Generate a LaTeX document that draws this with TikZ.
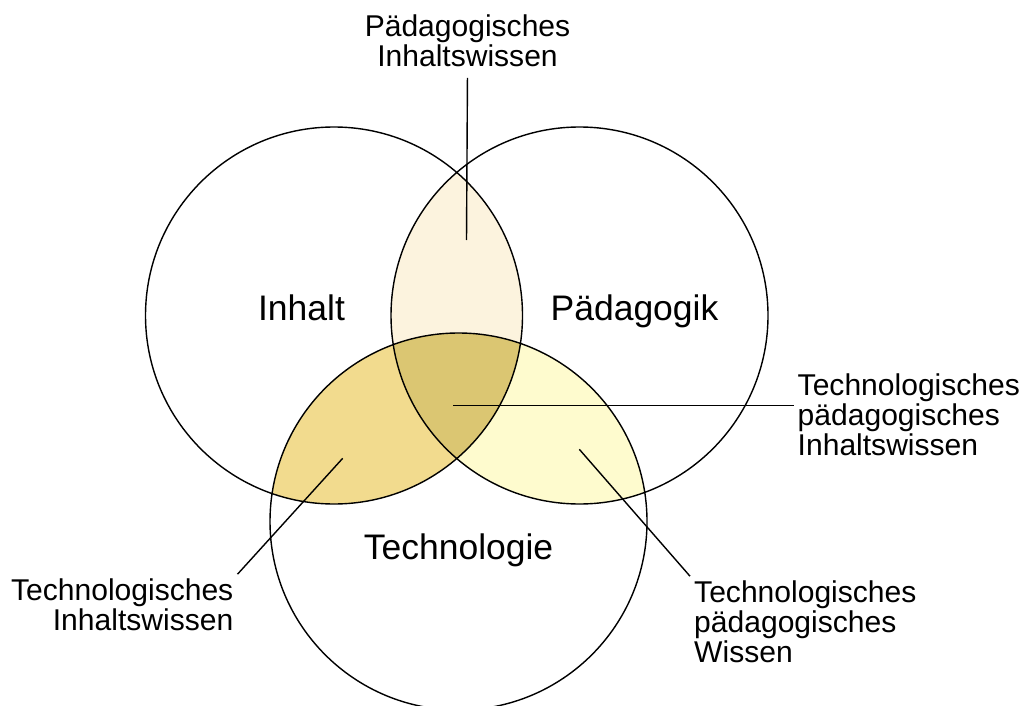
\documentclass[tikz,border=0pt]{standalone}
\usepackage{fontspec}
\setmainfont{Liberation Sans}
\definecolor{ipC}{RGB}{252,243,222}
\definecolor{itC}{RGB}{242,219,142}
\definecolor{ptC}{RGB}{254,251,206}
\definecolor{iptC}{RGB}{219,198,114}
\newcommand{\vennr}{3.77}

\begin{document}
\begin{tikzpicture}[line width=0.8pt,
  lbl/.style={font=\fontsize{17.1}{17.1}\selectfont,inner sep=2pt},
  big/.style={font=\fontsize{20.2}{24}\selectfont,anchor=base,inner sep=0pt}]
\useasboundingbox (0,0) rectangle (20.5,-14.12);
\coordinate (I) at (6.68,-6.31); \coordinate (P) at (11.59,-6.31); \coordinate (T) at (9.17,-10.43);
% overlaps, filled before the outlines
\begin{scope} \clip (I) circle(\vennr); \fill[ipC] (P) circle(\vennr); \fill[itC] (T) circle(\vennr); \end{scope}
\begin{scope} \clip (P) circle(\vennr); \fill[ptC] (T) circle(\vennr); \clip (I) circle(\vennr); \fill[iptC] (T) circle(\vennr); \end{scope}
\draw (I) circle(\vennr) (P) circle(\vennr) (T) circle(\vennr);
\node[big] (inh) at (6.03,-6.40) {Inhalt};
\node[big] (paed) at (12.69,-6.40) {Pädagogik};
\node[big] (tech) at (9.17,-11.18) {Technologie};
% labels for the overlaps
\coordinate (pik) at (9.33,-4.80); \coordinate (tpik) at (9.06,-8.11);
\coordinate (tik) at (6.854,-9.166); \coordinate (tpk) at (11.586,-8.986);
\node[lbl,align=center] (pi) at (9.35,-0.81) {Pädagogisches\\Inhaltswissen};
\node[lbl,align=left,anchor=west] (tpi) at (15.87,-8.30) {Technologisches\\pädagogisches\\Inhaltswissen};
\node[lbl,align=left,anchor=west] (tpw) at (13.80,-12.43) {Technologisches\\pädagogisches\\Wissen};
\node[lbl,align=right,anchor=east] (ti) at (4.75,-12.09) {Technologisches\\Inhaltswissen};
\draw[shorten >=4pt] (pik) -- (pi.south);
\draw (tpik) -- (tpik -| tpi.west);
\draw (tik) -- (ti.north east);
\draw (tpk) -- (tpw.north west);
\end{tikzpicture}
\end{document}
